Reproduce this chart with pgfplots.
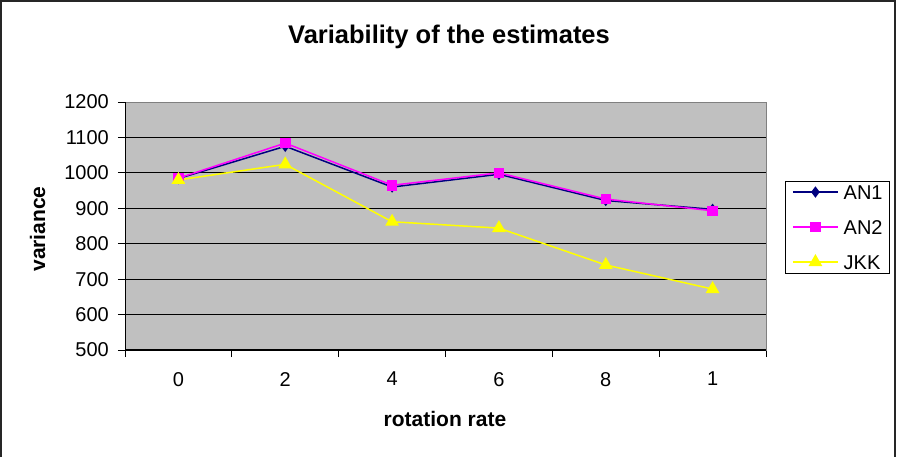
\documentclass[border=0pt]{standalone}
\usepackage{pgfplots}
\pgfplotsset{compat=1.18}
\usepackage{fontspec}
\setmainfont{Liberation Sans}
\definecolor{plotgray}{HTML}{C0C0C0}
\definecolor{navyc}{HTML}{000080}
\definecolor{magc}{HTML}{FF00FF}
\definecolor{yelc}{HTML}{FFFF00}
\begin{document}
\begin{tikzpicture}[x=1pt,y=1pt]
\path (0,0) rectangle (897,457);
\draw[black!85, line width=2pt] (1,0) -- (1,456) -- (895,456) -- (895,0);
\begin{axis}[
  at={(125pt,107pt)}, anchor=south west,
  scale only axis, width=641pt, height=248pt,
  xmin=-0.5, xmax=5.5, ymin=500, ymax=1200,
  axis background/.style={fill=plotgray},
  axis line style={draw=gray, line width=1pt},
  xtick={-0.5,0.5,...,5.5}, xticklabels={,,,,,,,},
  extra x ticks={0,1,2,3,4,5},
  extra x tick labels={0,2,4,6,8,1},
  extra x tick style={major tick length=0pt, xticklabel style={yshift=-22pt}},
  ytick={500,600,...,1200},
  xtick pos=lower, ytick pos=left,
  tick align=outside, major tick length=7pt,
  tick style={black, line width=1pt},
  ymajorgrids, grid style={black, line width=1pt},
  /pgf/number format/assume math mode=true,
  /pgf/number format/1000 sep={},
  tick label style={font=\fontsize{20}{24}\selectfont},
  yticklabel style={anchor=east, inner sep=0pt, xshift=-9pt},
  xticklabel style={anchor=north, inner sep=0pt},
  title={Variability of the estimates},
  title style={font=\bfseries\fontsize{25.5}{30}\selectfont, at={(axis description cs:0.5055,1.2137)}, anchor=base, inner sep=0pt},
  xlabel={rotation rate},
  xlabel style={font=\bfseries\fontsize{21}{25}\selectfont, at={(axis description cs:0.4992,-0.3065)}, anchor=base, inner sep=0pt},
  ylabel={variance},
  ylabel style={font=\bfseries\fontsize{21}{25}\selectfont, at={(axis description cs:-0.1248,0.488)}, anchor=base, inner sep=0pt},
  legend style={at={(1.0296,0.682)}, anchor=north west, draw=black, fill=white,
    font=\fontsize{20}{24}\selectfont, inner xsep=7pt, inner ysep=4pt, row sep=21pt,
    nodes={inner sep=0pt, text height=14pt, text depth=0pt},
    /tikz/every odd column/.append style={column sep=5pt}},
  legend cell align=left,
  legend image code/.code={\draw[mark repeat=2, mark phase=2, #1] plot coordinates {(0pt,0pt) (22.5pt,0pt) (45pt,0pt)};},
]
\draw[gray, line width=1pt] (rel axis cs:0,1) -- (rel axis cs:1,1) -- (rel axis cs:1,0);
\draw[black, line width=1.5pt] (rel axis cs:0,1) -- (rel axis cs:0,0) -- (rel axis cs:1,0);
\addplot[navyc, line width=1.5pt, mark=diamond*, mark size=4.5pt, mark options={solid, fill=navyc}]
  coordinates {(0,984) (1,1075) (2,960) (3,996) (4,922) (5,897)};
\addplot[magc, line width=1.5pt, mark=square*, mark size=4.5pt, mark options={solid, fill=magc}]
  coordinates {(0,985) (1,1084) (2,965) (3,1000) (4,926) (5,893)};
\addplot[yelc, line width=1.5pt, mark=triangle*, mark size=6.5pt, mark options={solid, fill=yelc}]
  coordinates {(0,980) (1,1024) (2,862) (3,844) (4,740) (5,672)};
\legend{AN1,AN2,JKK}
\end{axis}
\end{tikzpicture}
\end{document}
